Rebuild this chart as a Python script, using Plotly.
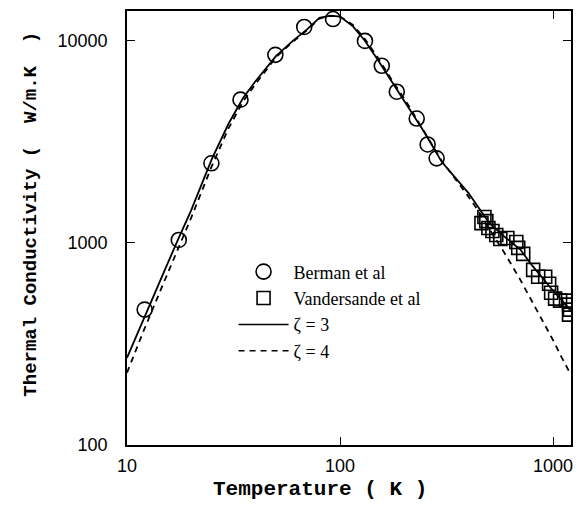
import plotly.graph_objects as go

# Berman et al (circles)
berman_T = [12.1, 17.5, 24.9, 34.1, 49.7, 67.9, 92.7, 130.9, 157, 184.6, 229, 257.7, 284]
berman_K = [468, 1035, 2478, 5119, 8531, 11720, 12830, 10000, 7530, 5606, 4127, 3073, 2623]

# Vandersande et al (squares)
vand_T = [461, 476, 486, 497, 519, 541, 565, 610, 672, 686, 724, 806, 851, 918,
          958, 979, 1022, 1078, 1150, 1188, 1200, 1188]
vand_K = [1254, 1343, 1283, 1186, 1146, 1095, 1046, 1058, 1011, 945, 883, 736, 680, 680,
          628, 567, 530, 518, 518, 495, 468, 442]

# Model curves
curve_T = [10, 12, 15, 17.5, 20, 25, 30, 35, 40, 50, 60, 70, 80, 90, 100, 115, 130,
           150, 175, 200, 250, 300, 400, 450, 500, 600, 700, 800, 900, 1000, 1100, 1214]
zeta3_K = [270, 425, 730, 1060, 1450, 2600, 3900, 5200, 6300, 8400, 10000, 11400, 13000,
           13350, 13200, 11800, 10100, 8100, 6300, 5100, 3500, 2520, 1770, 1480, 1260,
           1060, 930, 770, 660, 580, 520, 460]
zeta4_K = [228, 370, 650, 950, 1330, 2400, 3700, 5000, 6100, 8300, 9900, 11300, 12900,
           13300, 13200, 12000, 10300, 8300, 6400, 5200, 3500, 2550, 1700, 1420, 1180,
           870, 660, 510, 400, 330, 270, 222]

# Tick labels
x_tickvals = [10, 100, 1000]
x_ticktext = ["10", "100", "1000"]
y_tickvals = [100, 1000, 10000]
y_ticktext = ["100", "1000", "10000"]

fig = go.Figure()
fig.add_trace(go.Scatter(x=curve_T, y=zeta3_K, mode="lines", name="ζ = 3",
                         line=dict(color="black", width=1.8), showlegend=False))
fig.add_trace(go.Scatter(x=curve_T, y=zeta4_K, mode="lines", name="ζ = 4",
                         line=dict(color="black", width=1.8, dash="6px,5px"), showlegend=False))
fig.add_trace(go.Scatter(x=berman_T, y=berman_K, mode="markers", name="Berman et al",
                         marker=dict(symbol="circle-open", size=15, color="black",
                                     line=dict(width=1.6, color="black"))))
fig.add_trace(go.Scatter(x=vand_T, y=vand_K, mode="markers", name="Vandersande et al",
                         marker=dict(symbol="square-open", size=13, color="black",
                                     line=dict(width=1.6, color="black"))))
# legend entries for the lines
fig.add_trace(go.Scatter(x=[None], y=[None], mode="lines", name="ζ = 3",
                         line=dict(color="black", width=1.5)))
fig.add_trace(go.Scatter(x=[None], y=[None], mode="lines", name="ζ = 4",
                         line=dict(color="black", width=1.5, dash="6px,5px")))

axis_common = dict(
    type="log", showline=True, linecolor="black", linewidth=1.6, mirror="ticks",
    ticks="inside", ticklen=8, tickwidth=1.3, tickcolor="black",
    showgrid=False, zeroline=False,
    tickfont=dict(family="Liberation Sans, Arial", size=18, color="black"),
)

fig.update_layout(
    width=582, height=505,
    margin=dict(l=127, r=9, t=9, b=60),
    paper_bgcolor="white", plot_bgcolor="white",
    xaxis=dict(axis_common, range=[1, 3.084], tickvals=x_tickvals, ticktext=x_ticktext,
               ticklabelstandoff=4),
    yaxis=dict(axis_common, range=[2, 4.148], tickvals=y_tickvals, ticktext=y_ticktext,
               ticklabelstandoff=14),
    legend=dict(x=0.24, y=0.4415, xanchor="left", yanchor="top",
                bgcolor="rgba(0,0,0,0)", borderwidth=0, itemwidth=50,
                font=dict(family="Liberation Serif, Times New Roman", size=18, color="black"),
                tracegroupgap=0),
    showlegend=True,
    annotations=[
        dict(text="<b>Temperature ( K )</b>", xref="paper", yref="paper",
             x=0.435, y=-0.103, xanchor="center", yanchor="middle", showarrow=False,
             font=dict(family="Liberation Mono, Courier New", size=21, color="black")),
        dict(text="<b>Thermal Conductivity (  W/m.K  )</b>", xref="paper", yref="paper",
             x=-0.215, y=0.532, xanchor="center", yanchor="middle", showarrow=False,
             textangle=-90,
             font=dict(family="Liberation Mono, Courier New", size=19, color="black")),
    ],
)

fig.write_html("out.html")
